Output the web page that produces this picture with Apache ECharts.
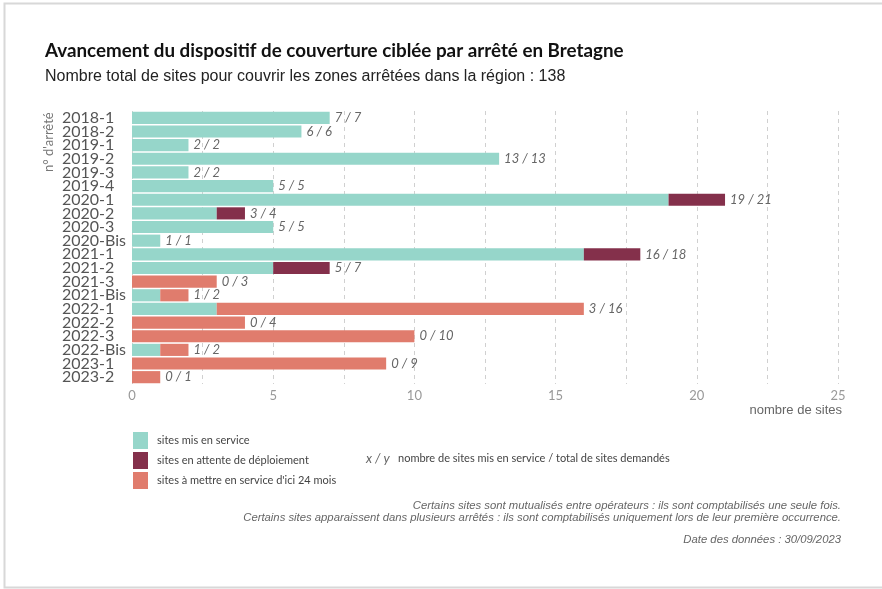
<!DOCTYPE html>
<html lang="fr">
<head>
    <meta charset="UTF-8">
    <title>Couverture ciblée Bretagne</title>
    <style>
        html,body{
            width: 100%;
            height: 100%;
            margin: 0;
            padding: 0;
            background: #fff;
        }
        #chart{
            width: 882px;
            height: 589px;
        }
    </style>
</head>
<body>
    <div id="chart"></div>
    <script src="https://cdn.jsdelivr.net/npm/echarts@6/dist/echarts.min.js"></script>
    <script>
        // données
        var arretes = ['2018-1','2018-2','2019-1','2019-2','2019-3','2019-4','2020-1','2020-2','2020-3','2020-Bis',
                       '2021-1','2021-2','2021-3','2021-Bis','2022-1','2022-2','2022-3','2022-Bis','2023-1','2023-2'];
        var enService  = [7, 6, 2, 13, 2, 5, 19, 3, 5, 1, 16, 5, 0, 1, 3, 0, 0, 1, 0, 0];
        var enAttente  = [0, 0, 0, 0, 0, 0, 2, 1, 0, 0, 2, 2, 0, 0, 0, 0, 0, 0, 0, 0];
        var aMettre    = [0, 0, 0, 0, 0, 0, 0, 0, 0, 0, 0, 0, 3, 1, 13, 4, 10, 1, 9, 1];
        var xTicks = [0, 5, 10, 15, 20, 25];

        var colors = ['#96d6ca', '#84304b', '#e07c6d'];
        var labelFont = 'Lato, "DejaVu Sans", sans-serif';

        var myChart = echarts.init(document.getElementById('chart'));

        function barSeries(name, data, color){
            return {
                name: name,
                type: 'bar',
                stack: 'total',
                data: data,
                barCategoryGap: '11%',
                itemStyle: { color: color },
                emphasis: { disabled: true }
            };
        }

        var series = [
            barSeries('sites mis en service', enService, colors[0]),
            barSeries('sites en attente de déploiement', enAttente, colors[1]),
            barSeries("sites à mettre en service d'ici 24 mois", aMettre, colors[2]),
            {
                // étiquette "x / y" au bout de chaque barre
                name: 'etiquette',
                type: 'bar',
                stack: 'total',
                data: arretes.map(function(){ return 0; }),
                itemStyle: { color: 'transparent' },
                label: {
                    show: true,
                    position: 'right',
                    distance: 5,
                    fontFamily: labelFont,
                    fontStyle: 'italic',
                    fontSize: 13,
                    color: '#666',
                    formatter: function(p){
                        var i = p.dataIndex;
                        var total = enService[i] + enAttente[i] + aMettre[i];
                        return enService[i] + ' / ' + total;
                    }
                },
                emphasis: { disabled: true }
            }
        ];

        var option = {
            backgroundColor: '#fff',
            animation: false,
            grid: {
                left: 132,
                right: 44,
                top: 111,
                bottom: 205,
                containLabel: false
            },
            legend: {
                data: ['sites mis en service', 'sites en attente de déploiement', "sites à mettre en service d'ici 24 mois"],
                orient: 'vertical',
                left: 128,
                top: 427,
                itemWidth: 15,
                itemHeight: 17,
                itemGap: 3,
                icon: 'rect',
                selectedMode: false,
                textStyle: {
                    fontFamily: labelFont,
                    fontSize: 11,
                    color: '#444',
                    padding: [0, 0, 0, 4]
                }
            },
            xAxis: {
                type: 'value',
                min: 0,
                max: 25,
                interval: 2.5,
                axisLine: { show: false },
                axisTick: { show: false },
                axisLabel: {
                    margin: 5,
                    fontFamily: labelFont,
                    fontSize: 13,
                    color: '#999',
                    formatter: function(v){
                        return xTicks.indexOf(v) >= 0 ? String(v) : '';
                    }
                },
                splitLine: {
                    show: true,
                    lineStyle: { color: '#d0d0d0', type: [4, 4], width: 1 }
                }
            },
            yAxis: {
                type: 'category',
                data: arretes,
                inverse: true,
                axisLine: { show: false },
                axisTick: { show: false },
                axisLabel: {
                    interval: 0,
                    margin: 70,
                    align: 'left',
                    fontFamily: labelFont,
                    fontSize: 16,
                    color: '#555',
                    lineHeight: 14
                }
            },
            graphic: [
                {
                    type: 'rect',
                    shape: { x: 4.5, y: 3.5, width: 900, height: 584 },
                    style: { fill: 'none', stroke: '#d8d8d8', lineWidth: 2 },
                    silent: true
                },
                {
                    type: 'text',
                    left: 45,
                    top: 41,
                    style: {
                        text: 'Avancement du dispositif de couverture ciblée par arrêté en Bretagne',
                        font: 'bold 18.8px Lato, "DejaVu Sans", sans-serif',
                        fill: '#111'
                    }
                },
                {
                    type: 'text',
                    left: 45,
                    top: 69,
                    style: {
                        text: 'Nombre total de sites pour couvrir les zones arrêtées dans la région : 138',
                        font: '16px "Liberation Sans", Arial, sans-serif',
                        fill: '#222'
                    }
                },
                {
                    type: 'text',
                    x: 42,
                    y: 172,
                    rotation: Math.PI / 2,
                    style: {
                        text: "n° d'arrêté",
                        font: '13px Lato, "DejaVu Sans", sans-serif',
                        fill: '#777',
                        textAlign: 'left',
                        textVerticalAlign: 'top'
                    }
                },
                {
                    type: 'text',
                    right: 40,
                    top: 404,
                    style: {
                        text: 'nombre de sites',
                        font: '13px "Liberation Sans", Arial, sans-serif',
                        fill: '#666'
                    }
                },
                {
                    type: 'text',
                    left: 366,
                    top: 452,
                    style: {
                        text: 'x / y',
                        font: 'italic 13px Lato, "DejaVu Sans", sans-serif',
                        fill: '#666'
                    }
                },
                {
                    type: 'text',
                    left: 398,
                    top: 453,
                    style: {
                        text: 'nombre de sites mis en service / total de sites demandés',
                        font: '11px Lato, "DejaVu Sans", sans-serif',
                        fill: '#444'
                    }
                },
                {
                    type: 'text',
                    right: 41,
                    top: 500,
                    style: {
                        text: 'Certains sites sont mutualisés entre opérateurs : ils sont comptabilisés une seule fois.\nCertains sites apparaissent dans plusieurs arrêtés : ils sont comptabilisés uniquement lors de leur première occurrence.',
                        font: 'italic 11.3px "Liberation Sans", Arial, sans-serif',
                        fill: '#666',
                        textAlign: 'right',
                        lineHeight: 12
                    }
                },
                {
                    type: 'text',
                    right: 41,
                    top: 534,
                    style: {
                        text: 'Date des données : 30/09/2023',
                        font: 'italic 11.3px "Liberation Sans", Arial, sans-serif',
                        fill: '#666',
                        textAlign: 'right'
                    }
                }
            ],
            series: series
        };

        myChart.setOption(option);
    </script>
</body>
</html>
